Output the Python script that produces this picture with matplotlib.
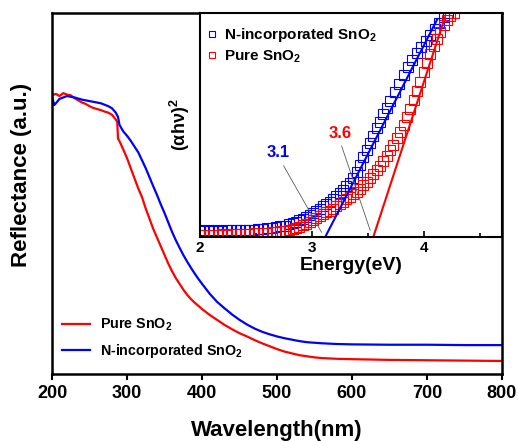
import matplotlib
matplotlib.use('Agg')
import matplotlib.pyplot as plt

plt.rcParams['font.family'] = ['Liberation Sans', 'DejaVu Sans']
plt.rcParams['font.weight'] = 'bold'
plt.rcParams['mathtext.fontset'] = 'custom'
plt.rcParams['mathtext.rm'] = 'Liberation Sans:bold'
plt.rcParams['mathtext.it'] = 'Liberation Sans:bold'
plt.rcParams['mathtext.bf'] = 'Liberation Sans:bold'

# reflectance spectra (normalised, a.u.)
wl_pure = [200, 205, 210, 215, 220, 225, 230, 235, 240, 245, 250, 255, 260, 265, 270,
           275, 280, 285, 287, 288, 290, 295, 300, 305, 310, 315, 320, 325, 330, 335,
           340, 345, 350, 355, 360, 365, 370, 375, 380, 385, 390, 395, 400, 410, 420,
           430, 440, 450, 460, 470, 480, 490, 500, 510, 520, 530, 540, 550, 560, 580,
           600, 650, 700, 750, 800]
refl_pure = [0.772, 0.776, 0.770, 0.778, 0.774, 0.772, 0.764, 0.758, 0.752, 0.748,
             0.742, 0.737, 0.734, 0.731, 0.727, 0.724, 0.718, 0.705, 0.698, 0.652,
             0.645, 0.622, 0.598, 0.570, 0.542, 0.514, 0.490, 0.458, 0.430, 0.402,
             0.378, 0.354, 0.330, 0.306, 0.285, 0.266, 0.250, 0.234, 0.220, 0.208,
             0.198, 0.189, 0.180, 0.164, 0.150, 0.136, 0.124, 0.113, 0.104, 0.094,
             0.085, 0.077, 0.069, 0.062, 0.057, 0.052, 0.049, 0.046, 0.044, 0.042,
             0.041, 0.039, 0.038, 0.037, 0.036]
wl_n = [200, 203, 206, 210, 215, 220, 225, 230, 240, 250, 260, 265, 270, 275, 280, 285,
        288, 290, 295, 300, 305, 310, 315, 320, 325, 330, 335, 340, 345, 350, 355, 360,
        365, 370, 375, 380, 385, 390, 395, 400, 410, 420, 430, 440, 450, 460, 470, 480,
        490, 500, 510, 520, 530, 540, 560, 580, 600, 650, 700, 750, 800]
refl_n = [0.768, 0.745, 0.752, 0.762, 0.766, 0.770, 0.768, 0.766, 0.760, 0.756, 0.752,
          0.750, 0.746, 0.742, 0.736, 0.724, 0.712, 0.690, 0.672, 0.660, 0.646, 0.630,
          0.614, 0.592, 0.570, 0.545, 0.520, 0.496, 0.470, 0.446, 0.420, 0.394, 0.371,
          0.350, 0.330, 0.312, 0.295, 0.279, 0.264, 0.250, 0.223, 0.200, 0.182, 0.165,
          0.150, 0.137, 0.126, 0.117, 0.110, 0.104, 0.099, 0.095, 0.091, 0.088, 0.085,
          0.083, 0.082, 0.081, 0.081, 0.080, 0.080]

# Tauc plot (inset)
e_n = [2.00, 2.04, 2.08, 2.12, 2.16, 2.20, 2.24, 2.28, 2.32, 2.36, 2.40, 2.44, 2.48,
       2.52, 2.56, 2.60, 2.64, 2.68, 2.72, 2.76, 2.80, 2.83, 2.86, 2.89, 2.92, 2.95,
       2.98, 3.01, 3.04, 3.07, 3.10, 3.13, 3.16, 3.19, 3.22, 3.25, 3.28, 3.31, 3.34,
       3.37, 3.40, 3.43, 3.46, 3.49, 3.52, 3.55, 3.58, 3.61, 3.64, 3.67, 3.70, 3.74,
       3.78, 3.82, 3.86, 3.90, 3.94, 3.98, 4.02, 4.06, 4.10, 4.14, 4.18, 4.22]
tauc_n = [0.030, 0.026, 0.031, 0.027, 0.030, 0.028, 0.031, 0.029, 0.030, 0.032, 0.030,
          0.033, 0.032, 0.035, 0.036, 0.038, 0.041, 0.043, 0.047, 0.051, 0.056, 0.061,
          0.067, 0.074, 0.082, 0.089, 0.098, 0.107, 0.117, 0.126, 0.137, 0.148, 0.158,
          0.170, 0.183, 0.196, 0.211, 0.226, 0.243, 0.262, 0.290, 0.322, 0.355, 0.388,
          0.420, 0.452, 0.485, 0.515, 0.547, 0.575, 0.605, 0.645, 0.685, 0.722, 0.758,
          0.790, 0.820, 0.848, 0.875, 0.902, 0.930, 0.955, 0.980, 1.000]
e_pure = [2.00, 2.04, 2.08, 2.12, 2.16, 2.20, 2.24, 2.28, 2.32, 2.36, 2.40, 2.44, 2.48,
          2.52, 2.56, 2.60, 2.64, 2.68, 2.72, 2.76, 2.80, 2.83, 2.86, 2.89, 2.92, 2.95,
          2.98, 3.01, 3.04, 3.07, 3.10, 3.13, 3.16, 3.19, 3.22, 3.25, 3.28, 3.31, 3.34,
          3.37, 3.40, 3.43, 3.46, 3.49, 3.52, 3.55, 3.58, 3.61, 3.64, 3.67, 3.70, 3.73,
          3.76, 3.79, 3.82, 3.85, 3.88, 3.91, 3.94, 3.97, 4.00, 4.03, 4.06, 4.09, 4.12,
          4.15, 4.18, 4.21, 4.24, 4.27]
tauc_pure = [0.008, 0.010, 0.009, 0.011, 0.010, 0.012, 0.011, 0.013, 0.012, 0.014,
             0.014, 0.015, 0.016, 0.017, 0.018, 0.020, 0.021, 0.023, 0.025, 0.028,
             0.031, 0.035, 0.040, 0.046, 0.052, 0.060, 0.068, 0.076, 0.084, 0.092,
             0.101, 0.110, 0.118, 0.127, 0.137, 0.148, 0.158, 0.168, 0.178, 0.190,
             0.202, 0.216, 0.230, 0.246, 0.262, 0.280, 0.298, 0.318, 0.340, 0.362,
             0.388, 0.412, 0.440, 0.470, 0.502, 0.535, 0.572, 0.610, 0.650, 0.692,
             0.735, 0.778, 0.815, 0.852, 0.885, 0.915, 0.945, 0.968, 0.985, 1.000]

# linear fits (band-gap extrapolation)
fit_n_x = [3.12, 4.12]
fit_n_y = [0.0, 0.97]
fit_pure_x = [3.55, 4.19]
fit_pure_y = [0.0, 0.98]

fig = plt.figure(figsize=(5.18, 4.41), dpi=100)
ax = fig.add_axes([0.1004, 0.152, 0.8686, 0.8185])

ax.plot(wl_pure, refl_pure, color='red', lw=1.6, label='Pure SnO$_2$')
ax.plot(wl_n, refl_n, color='blue', lw=1.6, label='N-incorporated SnO$_2$')
ax.set_xlim(200, 800)
ax.set_ylim(0, 1)
ax.set_xticks([200, 300, 400, 500, 600, 700, 800])
ax.set_yticks([])
ax.tick_params(axis='x', direction='out', length=4, width=1.5, labelsize=13, pad=4)
for s in ax.spines.values():
    s.set_linewidth(1.8)
ax.set_xlabel('Wavelength(nm)', fontsize=16, fontweight='bold', labelpad=13)
ax.set_ylabel('Reflectance (a.u.)', fontsize=16, fontweight='bold')
ax.yaxis.set_label_coords(-0.044, 0.551)
ax.legend(loc='lower left', bbox_to_anchor=(-0.007, 0.003), frameon=False, fontsize=10.3,
          handlelength=2.0, handletextpad=0.65, labelspacing=0.6)

# inset
axi = fig.add_axes([0.386, 0.4626, 0.583, 0.508])
axi.plot(e_n, tauc_n, ls='none', marker='s', ms=6.5, mfc='none', mec='blue', mew=0.8,
         label='N-incorporated SnO$_2$')
axi.plot(e_pure, tauc_pure, ls='none', marker='s', ms=6.5, mfc='none', mec='red', mew=0.8,
         label='Pure SnO$_2$')
axi.plot(fit_n_x, fit_n_y, color='blue', lw=1.5)
axi.plot(fit_pure_x, fit_pure_y, color='red', lw=1.5)
axi.set_xlim(2, 4.7)
axi.set_ylim(0, 1.0)
axi.set_xticks([2, 3, 4])
axi.set_xticks([2.5, 3.5, 4.5], minor=True)
axi.set_yticks([])
axi.tick_params(axis='x', which='both', direction='in', width=1.2, labelsize=11, pad=3)
axi.tick_params(axis='x', which='major', length=4)
axi.tick_params(axis='x', which='minor', length=3)
for s in axi.spines.values():
    s.set_linewidth(1.5)
axi.set_xlabel('Energy(eV)', fontsize=14, fontweight='bold', labelpad=1)
axi.set_ylabel('(αhν)$^2$', fontsize=13, fontweight='bold', labelpad=6)
axi.legend(loc='upper left', bbox_to_anchor=(-0.025, 0.99), frameon=False, fontsize=11,
           handletextpad=0.15, handlelength=1.2, borderaxespad=0.3, labelspacing=0.3,
           markerscale=0.7)

axi.annotate('3.1', xy=(3.10, 0.01), xytext=(2.70, 0.375), color='blue', fontsize=12,
             fontweight='bold', ha='center', va='center',
             arrowprops=dict(arrowstyle='-', color='0.35', lw=0.6, relpos=(0.6, 0.0)))
axi.annotate('3.6', xy=(3.53, 0.018), xytext=(3.25, 0.464), color='red', fontsize=12,
             fontweight='bold', ha='center', va='center',
             arrowprops=dict(arrowstyle='-', color='0.35', lw=0.6, relpos=(0.5, 0.0)))

fig.savefig('out.png', dpi=100)
